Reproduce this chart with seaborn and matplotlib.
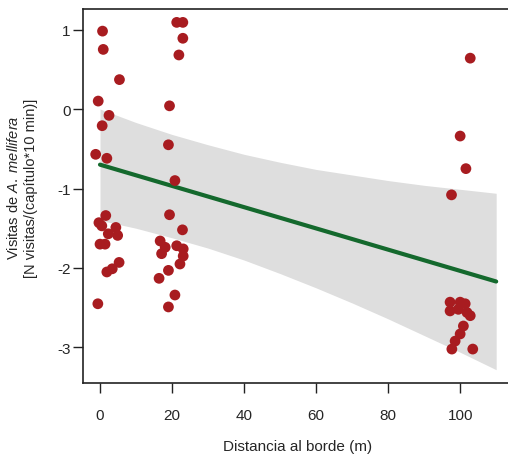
import matplotlib
matplotlib.use('Agg')
import matplotlib.pyplot as plt
import seaborn as sns
import pandas as pd

# Observed visits (distance in m, log visits)
dist = [
    # ~0 m
    0.7, 0.9, 5.4, -0.5, 2.5, 0.6, -1.2, 1.9,
    1.6, -0.3, 0.5, 4.4, 2.3, 4.9, 0.0, 1.4, 5.3, 3.4, 1.9, -0.6,
    # ~20 m
    21.3, 23.0, 23.0, 21.9, 19.3, 19.0, 20.8, 19.3, 22.9,
    16.7, 18.1, 17.1, 21.3, 23.1, 23.1, 22.2, 19.0, 16.4, 20.8, 19.0,
    # ~100 m
    102.8, 100.0, 101.6, 97.6,
    97.2, 100.0, 101.4, 97.2, 99.5, 101.9, 102.8, 100.9, 100.0, 98.6, 97.7, 103.5,
]
visits = [
    0.98, 0.75, 0.37, 0.10, -0.08, -0.21, -0.57, -0.62,
    -1.34, -1.43, -1.47, -1.49, -1.57, -1.59, -1.70, -1.70, -1.93, -2.01, -2.05, -2.45,
    1.09, 1.09, 0.89, 0.68, 0.04, -0.45, -0.90, -1.33, -1.52,
    -1.66, -1.74, -1.82, -1.72, -1.76, -1.85, -1.95, -2.03, -2.13, -2.34, -2.49,
    0.64, -0.34, -0.75, -1.08,
    -2.43, -2.43, -2.45, -2.54, -2.52, -2.56, -2.60, -2.73, -2.83, -2.92, -3.02, -3.02,
]

# fitted line and confidence band
fit_x = [0, 110]
fit_y = [-0.70, -2.17]
band_x = [0, 10, 20, 30, 40, 50, 60, 70, 80, 90, 100, 110]
band_hi = [-0.00, -0.17, -0.32, -0.45, -0.57, -0.67, -0.76, -0.83, -0.90, -0.96, -1.01, -1.06]
band_lo = [-1.40, -1.50, -1.62, -1.75, -1.90, -2.07, -2.25, -2.44, -2.64, -2.85, -3.06, -3.28]

sns.set_style("white")
plt.rcParams['font.family'] = ['Liberation Sans', 'DejaVu Sans']
plt.rcParams['axes.unicode_minus'] = False
plt.rcParams['mathtext.fontset'] = 'custom'
plt.rcParams['mathtext.rm'] = 'Liberation Sans'
plt.rcParams['mathtext.it'] = 'Liberation Sans:italic'

df = pd.DataFrame({"dist": dist, "visits": visits})
fit = pd.DataFrame({"x": fit_x, "y": fit_y})

fig = plt.figure(figsize=(5.08, 4.6), dpi=100)
# right edge of the frame falls just outside the picture, as in the original
ax = fig.add_axes([0.1634, 0.1652, 0.8445, 0.813])

ax.fill_between(band_x, band_lo, band_hi, color="#dedede", linewidth=0, zorder=1)
sns.lineplot(data=fit, x="x", y="y", color="#14692d", linewidth=3, ax=ax, zorder=2)
sns.scatterplot(data=df, x="dist", y="visits", color="#a81c20", s=60,
                edgecolor="none", ax=ax, zorder=3)

ax.set_xlim(-4.72, 114.4)
ax.set_ylim(-3.447, 1.258)
ax.set_xticks([0, 20, 40, 60, 80, 100])
ax.set_yticks([1, 0, -1, -2, -3])

for s in ax.spines.values():
    s.set_visible(True)
    s.set_color("#222222")
    s.set_linewidth(1.2)
ax.tick_params(axis="both", direction="out", length=7, width=1, color="#222222",
               labelsize=11, left=True, bottom=True)
ax.tick_params(axis="x", pad=11)
ax.tick_params(axis="y", pad=2)

ax.set_xlabel("Distancia al borde (m)", fontsize=11, labelpad=12)
ax.set_ylabel("Visitas de $\\mathit{A.\\ mellifera}$\n[N visitas/(capítulo*10 min)]",
              fontsize=10.5, linespacing=1.25)
ax.yaxis.set_label_coords(-0.106, 0.524)

plt.savefig("out.png", dpi=100)
